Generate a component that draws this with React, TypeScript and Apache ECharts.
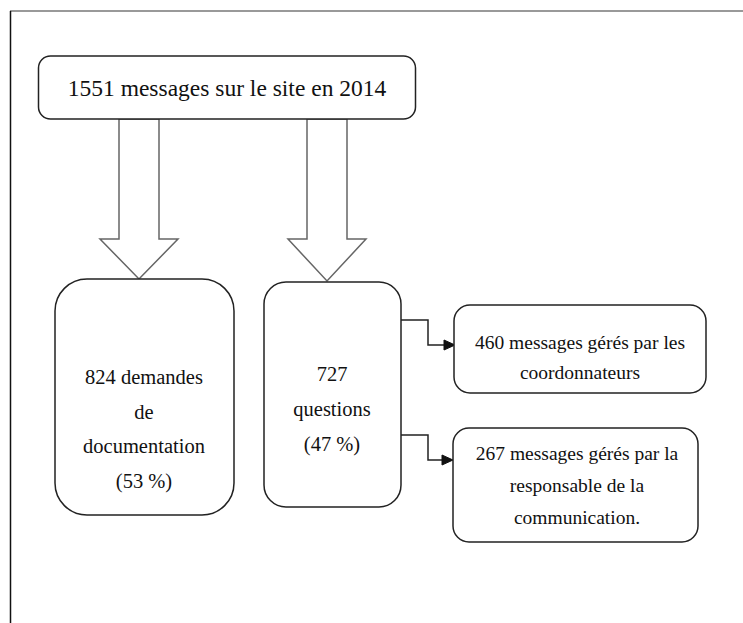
import React, { useEffect, useRef } from "react";
import * as echarts from "echarts";

// ---- data ----
const totalMessages = 1551;
const year = 2014;
const splitValues = [824, 727];
const splitPercents = [53, 47];
const questionHandlers = [460, 267];

// ---- labels built from data ----
const topLabel = `${totalMessages} messages sur le site en ${year}`;
const splitLabels = [
  [`${splitValues[0]} demandes`, "de", "documentation", `(${splitPercents[0]} %)`],
  [`${splitValues[1]}`, "questions", `(${splitPercents[1]} %)`],
];
const handlerLabels = [
  [`${questionHandlers[0]} messages gérés par les`, "coordonnateurs"],
  [`${questionHandlers[1]} messages gérés par la`, "responsable de la", "communication."],
];

const FONT = "'Liberation Serif', 'Times New Roman', serif";

export default function App() {
  const ref = useRef<HTMLDivElement>(null);
  useEffect(() => {
    if (!ref.current) return;
    const chart = echarts.init(ref.current, null, { renderer: "svg" });
    const stroke = { stroke: "#222", lineWidth: 1.5, fill: "#fff" };

    const box = (x: number, y: number, w: number, h: number, r: number) => ({
      type: "rect",
      shape: { x, y, width: w, height: h, r },
      style: { ...stroke },
    });
    const lines = (cx: number, y0: number, step: number, arr: string[], size: number) =>
      arr.map((t, i) => ({
        type: "text",
        x: cx,
        y: y0 + i * step,
        style: {
          text: t,
          x: 0,
          y: 0,
          align: "center",
          verticalAlign: "middle",
          font: `${size}px ${FONT}`,
          fill: "#111",
        },
      }));
    const blockArrow = (cx: number, top: number, shaftBottom: number, tip: number) => ({
      type: "polygon",
      shape: {
        points: [
          [cx - 20, top],
          [cx + 20, top],
          [cx + 20, shaftBottom],
          [cx + 39, shaftBottom],
          [cx, tip],
          [cx - 39, shaftBottom],
          [cx - 20, shaftBottom],
        ],
      },
      style: { stroke: "#666", lineWidth: 1.5, fill: "#fff" },
    });
    const elbow = (x0: number, y0: number, xm: number, y1: number, x1: number) => [
      {
        type: "polyline",
        shape: { points: [[x0, y0], [xm, y0], [xm, y1], [x1 - 10, y1]] },
        style: { stroke: "#222", lineWidth: 1.5, fill: null },
      },
      {
        type: "polygon",
        shape: { points: [[x1 - 11, y1 - 5], [x1, y1], [x1 - 11, y1 + 5]] },
        style: { fill: "#111", stroke: "#111", lineWidth: 1 },
      },
    ];

    const elements: any[] = [
      // frame
      { type: "line", shape: { x1: 10, y1: 11, x2: 743, y2: 11 }, style: { stroke: "#777", lineWidth: 1.5 } },
      { type: "line", shape: { x1: 10.5, y1: 11, x2: 10.5, y2: 623 }, style: { stroke: "#111", lineWidth: 1.5 } },
      // arrows (under boxes)
      blockArrow(139, 119, 239, 279),
      blockArrow(327, 119, 239, 281),
      // top box
      box(38.5, 56, 377, 63, 12),
      ...lines(227, 88, 0, [topLabel], 23.5),
      // split boxes
      box(55, 279, 179, 236, 32),
      ...lines(144, 377, 34.5, splitLabels[0], 20.5),
      box(264, 282, 137, 225, 22),
      ...lines(332, 374, 35, splitLabels[1], 20.5),
      // connectors
      ...elbow(401, 320, 428, 345, 455),
      ...elbow(401, 435, 428, 460, 453),
      // handler boxes
      box(454, 305, 252, 88, 16),
      ...lines(580, 342, 30, handlerLabels[0], 19.5),
      box(453, 428, 245, 114, 16),
      ...lines(577, 453, 32, handlerLabels[1], 19.5),
    ];

    chart.setOption({
      animation: false,
      backgroundColor: "#fff",
      graphic: { elements },
    });
    return () => chart.dispose();
  }, []);
  return (
    <div
      ref={ref}
      style={{ position: "fixed", left: 0, top: 0, width: 743, height: 623 }}
    />
  );
}
